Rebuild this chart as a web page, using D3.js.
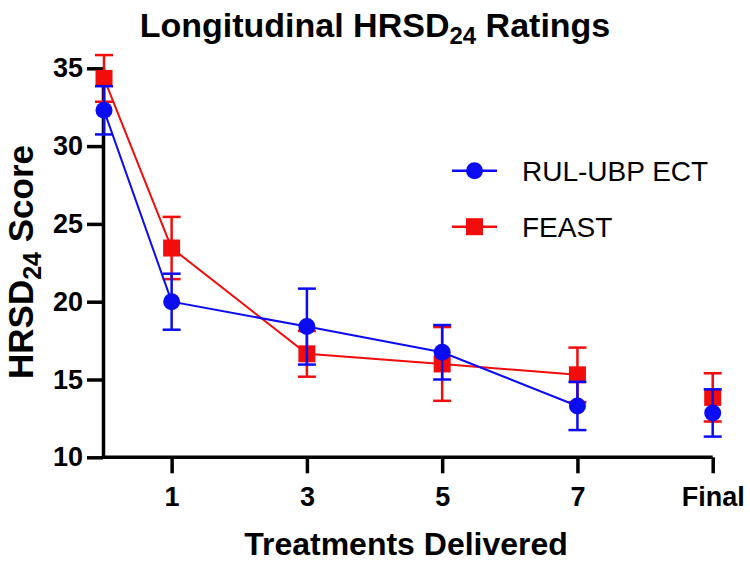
<!DOCTYPE html>
<html>
<head>
<meta charset="utf-8">
<script src="https://cdn.jsdelivr.net/npm/d3@7/dist/d3.min.js"></script>
<style>
  html, body { margin: 0; padding: 0; background: #fff; }
  svg { display: block; }
  text { font-family: "Liberation Sans", Arial, Helvetica, sans-serif; }
</style>
</head>
<body>
<svg id="chart" width="750" height="562"></svg>
<script>
// ---- data ----
const xPositions = [0, 1, 3, 5, 7, 9];
const xTickValues = [1, 3, 5, 7, 9];
const xTickLabels = ["1", "3", "5", "7", "Final"];
const yTickValues = [10, 15, 20, 25, 30, 35];
const ectMean = [32.3, 20.0, 18.4, 16.75, 13.3, 12.85];
const ectErr  = [1.55, 1.8, 2.44, 1.75, 1.55, 1.52];
const feastMean = [34.35, 23.45, 16.65, 16.0, 15.3, 13.85];
const feastErr  = [1.5, 2.0, 1.47, 2.37, 1.75, 1.55];
const seriesNames = ["RUL-UBP ECT", "FEAST"];
const connectedCount = 5; // Final is not joined by the line

// ---- layout ----
const svg = d3.select("#chart");
const x = d3.scaleLinear().domain([0, 9]).range([104, 712.7]);
const y = d3.scaleLinear().domain([10, 35]).range([457.3, 68.3]);
const axisX0 = 103;

const series = [
  { name: seriesNames[0], mean: ectMean, err: ectErr, color: "#0c0cf2", shape: "circle" },
  { name: seriesNames[1], mean: feastMean, err: feastErr, color: "#f20c0c", shape: "square" }
];

// title
const title = svg.append("text")
  .attr("x", 375).attr("y", 37)
  .attr("text-anchor", "middle")
  .attr("font-size", 34).attr("font-weight", "bold");
title.append("tspan").text("Longitudinal HRSD");
title.append("tspan").attr("font-size", 24).attr("dy", 7).text("24");
title.append("tspan").attr("dy", -7).text(" Ratings");

// y axis label
const yl = svg.append("text")
  .attr("transform", "translate(33,262) rotate(-90)")
  .attr("text-anchor", "middle")
  .attr("font-size", 35).attr("font-weight", "bold");
yl.append("tspan").text("HRSD");
yl.append("tspan").attr("font-size", 25).attr("dy", 8).text("24");
yl.append("tspan").attr("dy", -8).text(" Score");

// x axis label
svg.append("text")
  .attr("x", 406).attr("y", 555)
  .attr("text-anchor", "middle")
  .attr("font-size", 32).attr("font-weight", "bold")
  .text("Treatments Delivered");

// axes
const gx = svg.append("g").attr("transform", `translate(0,${y(10)})`)
  .call(d3.axisBottom(x).tickValues(xTickValues)
    .tickFormat((d, i) => xTickLabels[i]).tickSize(16).tickSizeOuter(0).tickPadding(13));
gx.select(".domain").attr("d", `M${axisX0},0H${x(9)}`);
const gy = svg.append("g").attr("transform", `translate(${axisX0},0)`)
  .call(d3.axisLeft(y).tickValues(yTickValues).tickSize(16).tickSizeOuter(0).tickPadding(4));
[gx, gy].forEach(g => {
  g.select(".domain").attr("stroke", "#000").attr("stroke-width", 3.5);
  g.selectAll(".tick line").attr("stroke", "#000").attr("stroke-width", 3.5);
  g.selectAll(".tick text").attr("fill", "#000").attr("font-size", 27)
    .attr("font-weight", "bold").attr("font-family", "'Liberation Sans', Arial, sans-serif");
});
gx.selectAll(".tick text").attr("dy", "0.72em");

// series
const line = d3.line().x(d => x(d.x)).y(d => y(d.m));
function drawMarker(g, s, cx, cy, r) {
  if (s.shape === "circle") {
    g.append("circle").attr("cx", cx).attr("cy", cy).attr("r", r).attr("fill", s.color);
  } else {
    g.append("rect").attr("x", cx - r).attr("y", cy - r)
      .attr("width", 2 * r).attr("height", 2 * r).attr("fill", s.color);
  }
}
// draw FEAST first, then ECT on top
[series[1], series[0]].forEach(s => {
  const pts = xPositions.map((xv, i) => ({ x: xv, m: s.mean[i], e: s.err[i] }));
  const g = svg.append("g");
  g.append("path").datum(pts.slice(0, connectedCount))
    .attr("d", line).attr("fill", "none").attr("stroke", s.color).attr("stroke-width", 2);
  pts.forEach(p => {
    const cx = x(p.x), y1 = y(p.m + p.e), y2 = y(p.m - p.e);
    g.append("line").attr("x1", cx).attr("x2", cx).attr("y1", y1).attr("y2", y2)
      .attr("stroke", s.color).attr("stroke-width", 2.5);
    [y1, y2].forEach(yy => g.append("line").attr("x1", cx - 9).attr("x2", cx + 9)
      .attr("y1", yy).attr("y2", yy).attr("stroke", s.color).attr("stroke-width", 2.5));
    drawMarker(g, s, cx, y(p.m), 8.5);
  });
});

// legend
series.forEach((s, i) => {
  const ly = 170.7 + i * 56;
  const g = svg.append("g");
  g.append("line").attr("x1", 452).attr("x2", 497).attr("y1", ly).attr("y2", ly)
    .attr("stroke", s.color).attr("stroke-width", 2.5);
  drawMarker(g, s, 474.5, ly, 8.5);
  g.append("text").attr("x", 522).attr("y", ly + 10)
    .attr("font-size", 28).attr("fill", "#000").text(s.name);
});
</script>
</body>
</html>
